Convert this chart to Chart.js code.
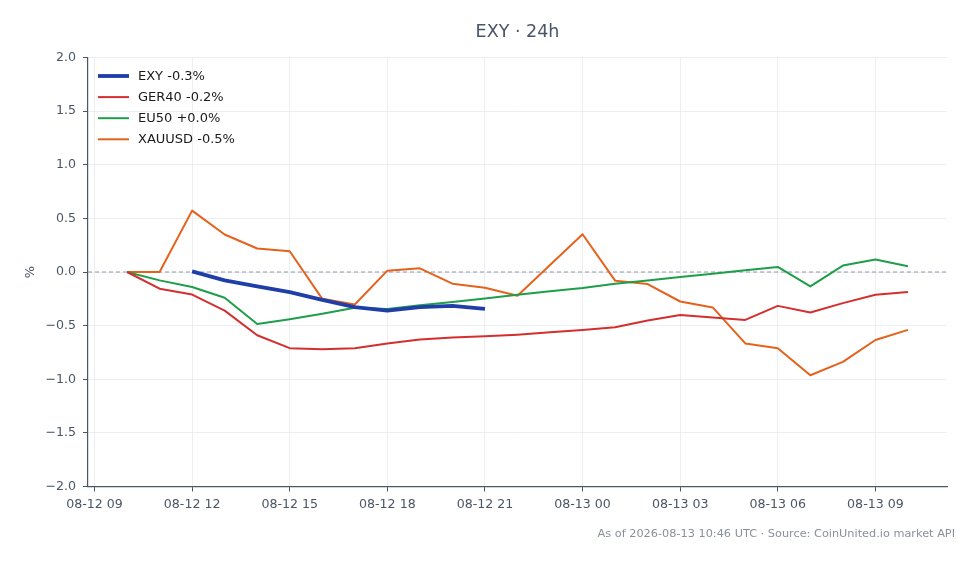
<!DOCTYPE html>
<html><head><meta charset="utf-8">
<script src="https://cdn.jsdelivr.net/npm/chart.js@4.4.1/dist/chart.umd.min.js"></script>
<style>html,body{margin:0;padding:0;background:#fff}#wrap{width:979px;height:564px;position:relative}</style>
</head><body><div id="wrap"><canvas id="c"></canvas></div>
<script>
// hourly timestamps (x index 0 = 08-12 10:00)
const times = ["08-12 10","08-12 11","08-12 12","08-12 13","08-12 14","08-12 15","08-12 16","08-12 17","08-12 18","08-12 19","08-12 20","08-12 21","08-12 22","08-12 23","08-13 00","08-13 01","08-13 02","08-13 03","08-13 04","08-13 05","08-13 06","08-13 07","08-13 08","08-13 09","08-13 10"];
const tickPositions = [-1, 2, 5, 8, 11, 14, 17, 20, 23];
const tickLabels = ["08-12 09","08-12 12","08-12 15","08-12 18","08-12 21","08-13 00","08-13 03","08-13 06","08-13 09"];
const seriesNames = ["EXY -0.3%", "GER40 -0.2%", "EU50 +0.0%", "XAUUSD -0.5%"];
const exy = [null, null, 0.006, -0.078, -0.134, -0.188, -0.26, -0.328, -0.36, -0.328, -0.316, -0.344, null, null, null, null, null, null, null, null, null, null, null, null, null];
const ger40 = [0, -0.156, -0.21, -0.36, -0.59, -0.71, -0.72, -0.71, -0.666, -0.63, -0.61, -0.6, -0.584, -0.5625, -0.54, -0.516, -0.453, -0.4, -0.425, -0.447, -0.316, -0.378, -0.29, -0.2125, -0.1875];
const eu50 = [0, -0.078, -0.14, -0.24, -0.484, -0.44, -0.39, -0.334, -0.344, -0.31, -0.28, -0.247, -0.2125, -0.18, -0.15, -0.11, -0.08, -0.047, -0.016, 0.016, 0.047, -0.134, 0.06, 0.116, 0.053];
const xauusd = [0, 0, 0.572, 0.35, 0.219, 0.194, -0.25, -0.303, 0.0125, 0.034, -0.109, -0.147, -0.222, 0.065, 0.352, -0.081, -0.1125, -0.275, -0.33, -0.666, -0.71, -0.9625, -0.8375, -0.634, -0.54];
const titleText = "EXY \u00b7 24h";
const footerText = "As of 2026-08-13 10:46 UTC \u00b7 Source: CoinUnited.io market API";

const toPts = arr => arr.map((v, i) => ({x: i, y: v}));
const FONT = "'DejaVu Sans', sans-serif";
const AXIS = '#4b5563';

const extras = {
  id: 'extras',
  beforeDatasetsDraw(chart) {
    const {ctx, chartArea: a, scales: {y}} = chart;
    const py = y.getPixelForValue(0);
    ctx.save();
    ctx.strokeStyle = '#8f99ad';
    ctx.lineWidth = 1;
    ctx.setLineDash([4, 3]);
    ctx.beginPath(); ctx.moveTo(a.left, py); ctx.lineTo(a.right, py); ctx.stroke();
    ctx.restore();
  },
  afterDatasetsDraw(chart) {
    const {ctx, chartArea: a} = chart;
    ctx.save();
    // legend
    ctx.font = "13px " + FONT;
    ctx.textBaseline = 'middle';
    chart.data.datasets.forEach((ds, i) => {
      const yy = 76 + i * 21.1;
      ctx.strokeStyle = ds.borderColor;
      ctx.lineWidth = ds.borderWidth;
      ctx.beginPath(); ctx.moveTo(98, yy); ctx.lineTo(129, yy); ctx.stroke();
      ctx.fillStyle = '#1a1a1a';
      ctx.fillText(ds.label, 138, yy + 0.5);
    });
    // title
    ctx.fillStyle = '#4a5568';
    ctx.font = "17.5px " + FONT;
    ctx.textAlign = 'center';
    ctx.fillText(titleText, (a.left + a.right) / 2, 32);
    // footer
    ctx.fillStyle = '#8a909a';
    ctx.font = "11.3px " + FONT;
    ctx.textAlign = 'right';
    ctx.fillText(footerText, 955, 534);
    // y axis title
    ctx.fillStyle = AXIS;
    ctx.font = "13px " + FONT;
    ctx.textAlign = 'center';
    ctx.translate(31, (a.top + a.bottom) / 2);
    ctx.rotate(-Math.PI / 2);
    ctx.fillText('%', 0, 0);
    ctx.restore();
  }
};

new Chart(document.getElementById('c'), {
  type: 'line',
  data: {
    datasets: [
      {label: seriesNames[0], data: toPts(exy), borderColor: '#1f3ea8', borderWidth: 3.8},
      {label: seriesNames[1], data: toPts(ger40), borderColor: '#d42f2f', borderWidth: 2},
      {label: seriesNames[2], data: toPts(eu50), borderColor: '#1f9e4a', borderWidth: 2},
      {label: seriesNames[3], data: toPts(xauusd), borderColor: '#e5621c', borderWidth: 2}
    ]
  },
  options: {
    responsive: true,
    maintainAspectRatio: false,
    animation: false,
    parsing: false,
    spanGaps: false,
    elements: {point: {radius: 0, hoverRadius: 0}, line: {tension: 0, borderJoinStyle: 'round', borderCapStyle: 'butt'}},
    layout: {padding: {left: 0, right: 32, top: 57.5, bottom: 0}},
    plugins: {legend: {display: false}, title: {display: false}, tooltip: {enabled: false}},
    scales: {
      x: {
        type: 'linear', min: -1.2, max: 25.2,
        afterFit(s) { s.height = 77.5; },
        afterBuildTicks(s) { s.ticks = tickPositions.map(v => ({value: v})); },
        ticks: {
          autoSkip: false, maxRotation: 0, padding: 6, color: AXIS,
          font: {family: FONT, size: 12.6},
          callback(v) { const k = tickPositions.indexOf(v); return k >= 0 ? tickLabels[k] : ''; }
        },
        grid: {color: '#e8eaee', lineWidth: 0.8, tickColor: AXIS, tickLength: 5, tickWidth: 1},
        border: {display: true, color: AXIS, width: 1.2}
      },
      y: {
        min: -2, max: 2,
        afterFit(s) { s.width = 88; },
        ticks: {
          stepSize: 0.5, padding: 7, color: AXIS,
          font: {family: FONT, size: 12.6},
          callback(v) { return v.toFixed(1).replace('-', '\u2212'); }
        },
        grid: {color: '#e8eaee', lineWidth: 0.8, tickColor: AXIS, tickLength: 5, tickWidth: 1},
        border: {display: true, color: AXIS, width: 1.2}
      }
    }
  },
  plugins: [extras]
});
</script></body></html>
